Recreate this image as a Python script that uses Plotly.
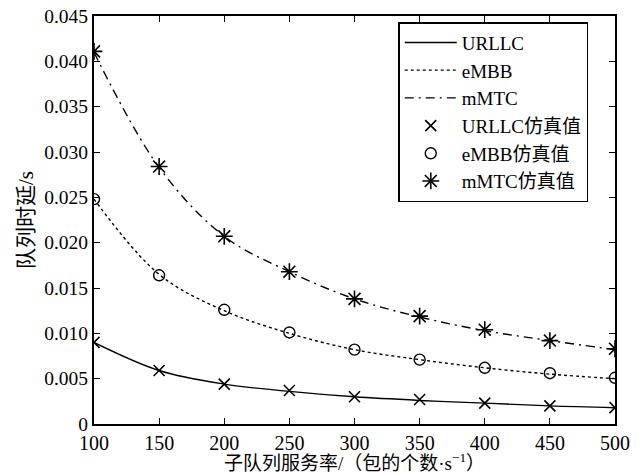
import plotly.graph_objects as go

rates = [100, 150, 200, 250, 300, 350, 400, 450, 500]
urllc = [0.0090, 0.0059, 0.0044, 0.0036, 0.0030, 0.0026, 0.0023, 0.0020, 0.0018]
embb = [0.0248, 0.0165, 0.0125, 0.0100, 0.0082, 0.0071, 0.0062, 0.0055, 0.0050]
mmtc = [0.0410, 0.0283, 0.0207, 0.0168, 0.0138, 0.0118, 0.0103, 0.0092, 0.0082]
urllc_sim = [0.0090, 0.0059, 0.0044, 0.0037, 0.0030, 0.0027, 0.0023, 0.0020, 0.0018]
embb_sim = [0.0248, 0.0164, 0.0126, 0.0101, 0.0082, 0.0071, 0.0062, 0.0056, 0.0051]
mmtc_sim = [0.0411, 0.0284, 0.0207, 0.0168, 0.0138, 0.0119, 0.0104, 0.0092, 0.0083]

y_ticks = [0, 0.005, 0.010, 0.015, 0.020, 0.025, 0.030, 0.035, 0.040, 0.045]
y_ticktext = ["0", "0.005", "0.010", "0.015", "0.020", "0.025", "0.030", "0.035", "0.040", "0.045"]
x_ticks = [100, 150, 200, 250, 300, 350, 400, 450, 500]

serif = "Liberation Serif, Times New Roman, Noto Sans CJK SC, serif"

fig = go.Figure()
fig.add_trace(go.Scatter(x=rates, y=urllc, mode="lines", name="URLLC",
                         line=dict(color="black", width=1.4, shape="spline")))
fig.add_trace(go.Scatter(x=rates, y=embb, mode="lines", name="eMBB",
                         line=dict(color="black", width=1.4, shape="spline", dash="3px,3px")))
fig.add_trace(go.Scatter(x=rates, y=mmtc, mode="lines", name="mMTC",
                         line=dict(color="black", width=1.4, shape="spline", dash="9px,5px,2px,5px")))
fig.add_trace(go.Scatter(x=rates, y=urllc_sim, mode="markers", name="URLLC仿真值",
                         marker=dict(symbol="x-thin-open", size=11, color="black",
                                     line=dict(width=1.6, color="black"))))
fig.add_trace(go.Scatter(x=rates, y=embb_sim, mode="markers", name="eMBB仿真值",
                         marker=dict(symbol="circle-open", size=11, color="black",
                                     line=dict(width=1.4, color="black"))))
fig.add_trace(go.Scatter(x=rates, y=mmtc_sim, mode="markers", name="mMTC仿真值",
                         marker=dict(symbol="asterisk-open", size=14, color="black",
                                     line=dict(width=1.6, color="black"))))

fig.update_layout(
    width=642, height=474,
    margin=dict(l=94, r=27, t=16, b=50, autoexpand=False),
    paper_bgcolor="white", plot_bgcolor="white",
    font=dict(family=serif, size=19, color="black"),
    showlegend=True,
    legend=dict(x=0.584, y=0.985, xanchor="left", yanchor="top",
                bgcolor="white", bordercolor="black", borderwidth=1.5,
                font=dict(size=19, family=serif), tracegroupgap=0,
                itemwidth=52),
)
fig.update_xaxes(
    range=[100, 500], tickvals=x_ticks, ticks="inside", ticklen=6,
    tickwidth=1.2, tickcolor="black", showline=True, linewidth=2, linecolor="black",
    mirror="ticks", showgrid=False, zeroline=False,
    title=dict(text="子队列服务率/（包的个数·s<sup>−1</sup>）", standoff=2,
               font=dict(size=19)),
    tickfont=dict(size=20), automargin=False, ticklabeloverflow="allow",
)
fig.update_yaxes(
    range=[0, 0.045], tickvals=y_ticks, ticktext=y_ticktext, ticks="inside", ticklen=6,
    tickwidth=1.2, tickcolor="black", showline=True, linewidth=2, linecolor="black",
    mirror="ticks", showgrid=False, zeroline=False,
    title=dict(text="队列时延/s", standoff=5, font=dict(size=21)),
    tickfont=dict(size=19.5), automargin=False, ticklabeloverflow="allow",
)

# remove the page's default body margin so the figure sits at the window's corner
fig.write_html("out.html", config={"displayModeBar": False},
               post_script="document.body.style.margin='0';")
